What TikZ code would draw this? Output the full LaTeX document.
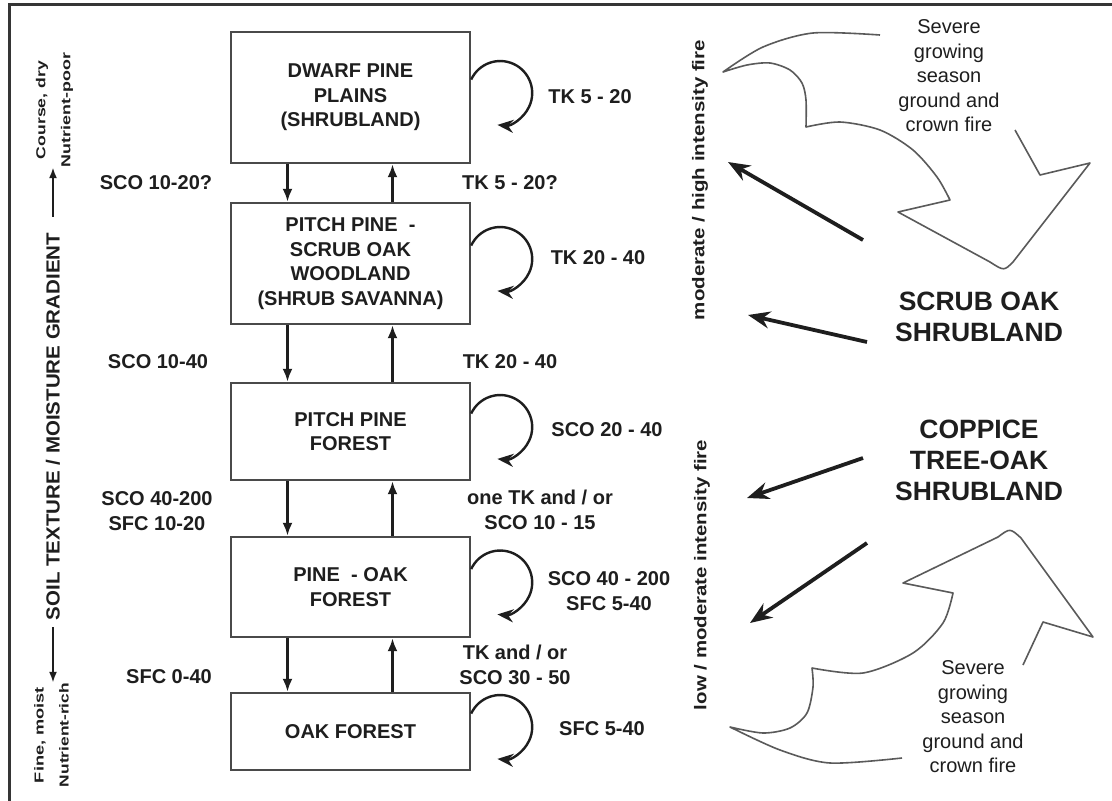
\documentclass[tikz,border=0pt]{standalone}
\usepackage{fontspec}
\setmainfont{Liberation Sans}
\usepackage{graphicx}
\usetikzlibrary{arrows.meta}
\definecolor{ink}{HTML}{1E1E1E}
\definecolor{boxc}{HTML}{4A4A4A}
\definecolor{firec}{HTML}{5A5A5A}
\newcommand\lblfont{\fontsize{20}{24.5}\selectfont\bfseries}
\newcommand\bigfont{\fontsize{26.5}{31}\selectfont\bfseries}
\newcommand\sevfont{\fontsize{20}{24.5}\selectfont}
\newcommand\vfont{\fontsize{17}{20}\selectfont\bfseries}
\newcommand\soilfont{\fontsize{19}{22}\selectfont\bfseries}
\newcommand\smallvfont{\fontsize{13}{25}\selectfont\bfseries}
\begin{document}
\begin{tikzpicture}[x=1pt,y=-1pt,
  stage/.style={draw=boxc, line width=2.4pt, minimum width=239pt, align=center,
                font=\lblfont, text=ink, inner sep=0pt},
  lbl/.style={font=\lblfont, text=ink, align=center, inner sep=0pt},
  big/.style={font=\bigfont, text=ink, align=center, inner sep=0pt},
  sev/.style={font=\sevfont, text=ink, align=center, inner sep=0pt},
  vconn/.style={draw=ink, line width=2.5pt, -{Latex[length=13pt,width=10pt]}},
  loopc/.style={draw=ink, line width=2.4pt, -{Stealth[length=16pt,width=13pt]}},
  bigarrow/.style={draw=ink, line width=3.8pt, -{Stealth[length=22pt,width=17pt]}},
  garrow/.style={draw=ink, line width=2pt, -{Latex[length=11pt,width=8pt]}},
  fireline/.style={draw=firec, line width=1.6pt, line join=round}]
\useasboundingbox (0,0) rectangle (1112,801);
\fill[white] (0,0) rectangle (1112,801);
% frame
\draw[line width=3pt, draw=ink!90] (9,801) -- (9,4) -- (1112,4);

% succession boxes
\node[stage, minimum height=131pt] (b1) at (350.5,97.5) {DWARF PINE\\PLAINS\\(SHRUBLAND)};
\node[stage, minimum height=121pt] (b2) at (350.5,263.5) {PITCH PINE \ -\\SCRUB OAK\\WOODLAND\\(SHRUB SAVANNA)};
\node[stage, minimum height=97pt] (b3) at (350.5,431.5) {PITCH PINE\\FOREST};
\node[stage, minimum height=100pt] (b4) at (350.5,587) {PINE \ - OAK\\FOREST};
\node[stage, minimum height=77pt] (b5) at (350.5,731.5) {OAK FOREST};

% transitions between boxes
\foreach \a/\b in {b1/b2,b2/b3,b3/b4,b4/b5}{
  \draw[vconn] ([xshift=-63pt]\a.south) -- ([xshift=-63pt]\b.north);
  \draw[vconn] ([xshift=42pt]\b.north) -- ([xshift=42pt]\a.south);
}
% self loops
\foreach \b in {b1,b2,b3,b4,b5}{
  \draw[loopc] ([yshift=18pt]\b.east) arc[start angle=155, end angle=-95, radius=32pt];
}

% left labels
\node[lbl] (l1) at (156,183) {SCO 10-20?};
\node[lbl] (l2) at (158,362) {SCO 10-40};
\node[lbl] (l3) at (157,511) {SCO 40-200\\SFC 10-20};
\node[lbl] (l4) at (169,677) {SFC 0-40};
% right transition labels
\node[lbl] (r1) at (510,183) {TK 5 - 20?};
\node[lbl] (r2) at (510,362) {TK 20 - 40};
\node[lbl] (r3) at (540,510) {one TK and / or\\SCO 10 - 15};
\node[lbl] (r4) at (515,665) {TK and / or\\SCO 30 - 50};
% loop labels
\node[lbl] (p1) at (590,97) {TK 5 - 20};
\node[lbl] (p2) at (598,258) {TK 20 - 40};
\node[lbl] (p3) at (607,430) {SCO 20 - 40};
\node[lbl] (p4) at (609,591) {SCO 40 - 200\\SFC 5-40};
\node[lbl] (p5) at (602,729) {SFC 5-40};

% soil gradient axis
\node[rotate=90, inner sep=0pt, text=ink] (soil) at (53,426.5)
  {\resizebox{387pt}{\height}{\soilfont SOIL TEXTURE / MOISTURE GRADIENT}};
\node[rotate=90, inner sep=0pt, align=center, font=\smallvfont, text=ink] (top) at (54.5,110)
  {\resizebox{98pt}{\height}{Course, dry}\\\resizebox{114pt}{\height}{Nutrient-poor}};
\node[rotate=90, inner sep=0pt, align=center, font=\smallvfont, text=ink] (bot) at (51.5,735)
  {\resizebox{96pt}{\height}{Fine, moist}\\\resizebox{104pt}{\height}{Nutrient-rich}};
\draw[garrow, shorten <=16pt] (soil.east) -- (soil.east |- top.west);
\draw[garrow, shorten <=7pt] (soil.west) -- (soil.west |- bot.east);

% fire intensity labels
\node[rotate=90, inner sep=0pt, text=ink] (vf1) at (700,180)
  {\resizebox{280pt}{\height}{\vfont moderate / high intensity fire}};
\node[rotate=90, inner sep=0pt, text=ink] (vf2) at (702,575)
  {\resizebox{270pt}{\height}{\vfont low / moderate intensity fire}};

% shrubland labels
\node[big] (so) at (979,317) {SCRUB OAK\\SHRUBLAND};
\node[big] (co) at (979,460) {COPPICE\\TREE-OAK\\SHRUBLAND};

% severe fire texts
\node[sev] (sev1) at (949,76) {Severe\\growing\\season\\ground and\\crown fire};
\node[sev] (sev2) at (973,717) {Severe\\growing\\season\\ground and\\crown fire};

% big arrows
\coordinate (a1s) at (863,240); \coordinate (a1e) at (728,162);
\coordinate (a2s) at (867,342); \coordinate (a2e) at (748,315);
\coordinate (a3s) at (863,458); \coordinate (a3e) at (747,498);
\coordinate (a4s) at (867,543); \coordinate (a4e) at (750,623);
\draw[bigarrow] (a1s) -- (a1e);
\draw[bigarrow] (a2s) -- (a2e);
\draw[bigarrow] (a3s) -- (a3e);
\draw[bigarrow] (a4s) -- (a4e);

% upper fire shape
\draw[fireline] plot[smooth] coordinates {(880,35) (813,33) (763,47) (723,72)}
  -- plot[smooth] coordinates {(723,72) (747,65) (770,63) (790,70) (802,83) (806,100) (806,127)}
  -- plot[smooth] coordinates {(806,127) (840,122) (880,130) (913,150) (937,177) (950,200)}
  -- (898,212) -- (990,262) .. controls (1004,271) .. (1013,262) -- (1090,163)
  -- (1040,175) -- (1015,130);
% lower fire shape
\draw[fireline] plot[smooth] coordinates {(902,758) (830,763) (780,750) (730,727)}
  -- plot[smooth] coordinates {(730,727) (763,733) (790,728) (807,713) (813,687) (812,668)}
  -- plot[smooth] coordinates {(812,668) (863,673) (913,653) (943,623) (953,593)}
  -- (903,583) -- (998,537) .. controls (1010,528) .. (1021,538) -- (1093,637)
  -- (1043,622) -- (1023,665);
\end{tikzpicture}
\end{document}
